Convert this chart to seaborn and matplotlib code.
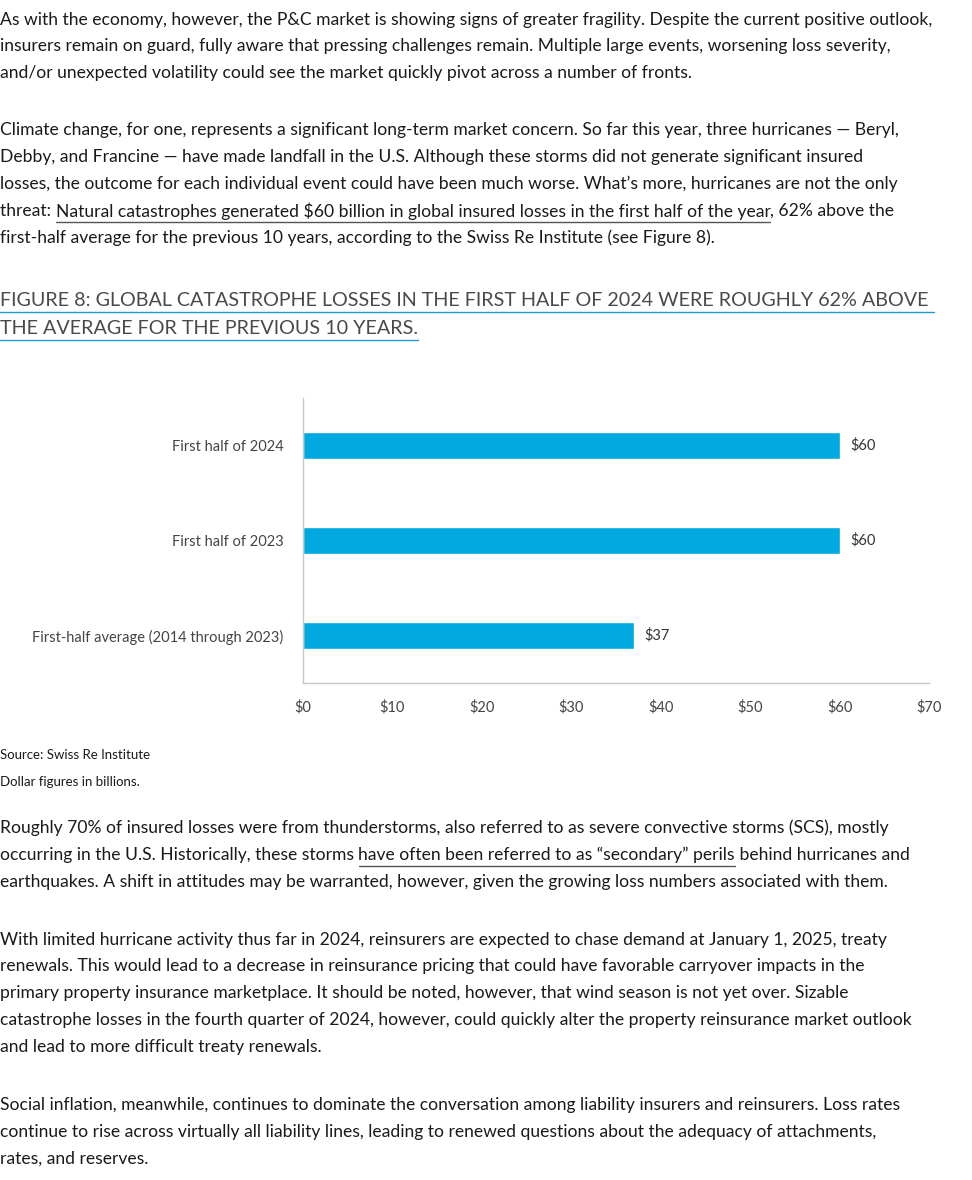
import matplotlib
matplotlib.use("Agg")
import matplotlib.pyplot as plt
import seaborn as sns
import pandas as pd

categories = ["First half of 2024", "First half of 2023", "First-half average (2014 through 2023)"]
values = [60, 60, 37]
value_labels = ["$60", "$60", "$37"]
xticks = [0, 10, 20, 30, 40, 50, 60, 70]
xtick_labels = ["$0", "$10", "$20", "$30", "$40", "$50", "$60", "$70"]

sns.set_theme(style="white")
plt.rcParams['font.family'] = ['Lato', 'DejaVu Sans']

W, H = 972, 1180
fig = plt.figure(figsize=(W/100, H/100), dpi=100)
TXT = "#1a1a1a"

body = [
    (20, [("As with the economy, however, the P&C market is showing signs of greater fragility. Despite the current positive outlook,", False)]),
    (46, [("insurers remain on guard, fully aware that pressing challenges remain. Multiple large events, worsening loss severity,", False)]),
    (73, [("and/or unexpected volatility could see the market quickly pivot across a number of fronts.", False)]),
    (130, [("Climate change, for one, represents a significant long-term market concern. So far this year, three hurricanes — Beryl,", False)]),
    (157, [("Debby, and Francine — have made landfall in the U.S. Although these storms did not generate significant insured", False)]),
    (184, [("losses, the outcome for each individual event could have been much worse. What’s more, hurricanes are not the only", False)]),
    (211, [("threat: ", False), ("Natural catastrophes generated $60 billion in global insured losses in the first half of the year", True), (", 62% above the", False)]),
    (238, [("first-half average for the previous 10 years, according to the Swiss Re Institute (see Figure 8).", False)]),
    (828, [("Roughly 70% of insured losses were from thunderstorms, also referred to as severe convective storms (SCS), mostly", False)]),
    (855, [("occurring in the U.S. Historically, these storms ", False), ("have often been referred to as “secondary” perils", True), (" behind hurricanes and", False)]),
    (882, [("earthquakes. A shift in attitudes may be warranted, however, given the growing loss numbers associated with them.", False)]),
    (940, [("With limited hurricane activity thus far in 2024, reinsurers are expected to chase demand at January 1, 2025, treaty", False)]),
    (966, [("renewals. This would lead to a decrease in reinsurance pricing that could have favorable carryover impacts in the", False)]),
    (993, [("primary property insurance marketplace. It should be noted, however, that wind season is not yet over. Sizable", False)]),
    (1020, [("catastrophe losses in the fourth quarter of 2024, however, could quickly alter the property reinsurance market outlook", False)]),
    (1047, [("and lead to more difficult treaty renewals.", False)]),
    (1105, [("Social inflation, meanwhile, continues to dominate the conversation among liability insurers and reinsurers. Loss rates", False)]),
    (1132, [("continue to rise across virtually all liability lines, leading to renewed questions about the adequacy of attachments,", False)]),
    (1159, [("rates, and reserves.", False)]),
]

renderer = fig.canvas.get_renderer()

def draw_line(ypix, segs, size, color, ul_color, x0=0):
    x = x0
    for txt, ul in segs:
        t = fig.text(x / W, 1 - ypix / H, txt, fontsize=size, color=color, va="center", ha="left")
        bb = t.get_window_extent(renderer)
        if ul:
            yy = 1 - (ypix + size * 0.85) / H
            fig.add_artist(plt.Line2D([x / W, (x + bb.width) / W], [yy, yy], color=ul_color, lw=1, transform=fig.transFigure))
        x += bb.width

for y, segs in body:
    draw_line(y, segs, 12.6, TXT, "#555555")

draw_line(300, [("FIGURE 8: GLOBAL CATASTROPHE LOSSES IN THE FIRST HALF OF 2024 WERE ROUGHLY 62% ABOVE ", True)], 14.2, "#4a4a4a", "#1a9ad6")
draw_line(328, [("THE AVERAGE FOR THE PREVIOUS 10 YEARS.", True)], 14.2, "#4a4a4a", "#1a9ad6")

fig.text(0, 1 - 755 / H, "Source: Swiss Re Institute", fontsize=9.5, color=TXT, va="center")
fig.text(0, 1 - 782 / H, "Dollar figures in billions.", fontsize=9.5, color=TXT, va="center")

ax = fig.add_axes([303 / W, 1 - 683 / H, (929 - 303) / W, (683 - 398) / H])
df = pd.DataFrame({"cat": categories, "val": values})
sns.barplot(data=df, y="cat", x="val", orient="h", color="#00A9E0", width=0.285, ax=ax, saturation=1)
ax.set_xlim(0, 70)
ax.set_ylim(2.5, -0.5)
ax.set_xticks(xticks)
ax.set_xticklabels(xtick_labels)
ax.set_xlabel("")
ax.set_ylabel("")
ax.tick_params(axis="both", length=0, labelsize=10.5, colors="#444444", pad=14)
ax.tick_params(axis="x", pad=12)
for s in ["top", "right"]:
    ax.spines[s].set_visible(False)
for s in ["left", "bottom"]:
    ax.spines[s].set_color("#c8c8c8")
    ax.spines[s].set_linewidth(1)
for i, (v, lab) in enumerate(zip(values, value_labels)):
    ax.text(v + 1.2, i, lab, va="center", ha="left", fontsize=10.5, color="#333333")

fig.savefig("out.png", dpi=100)
